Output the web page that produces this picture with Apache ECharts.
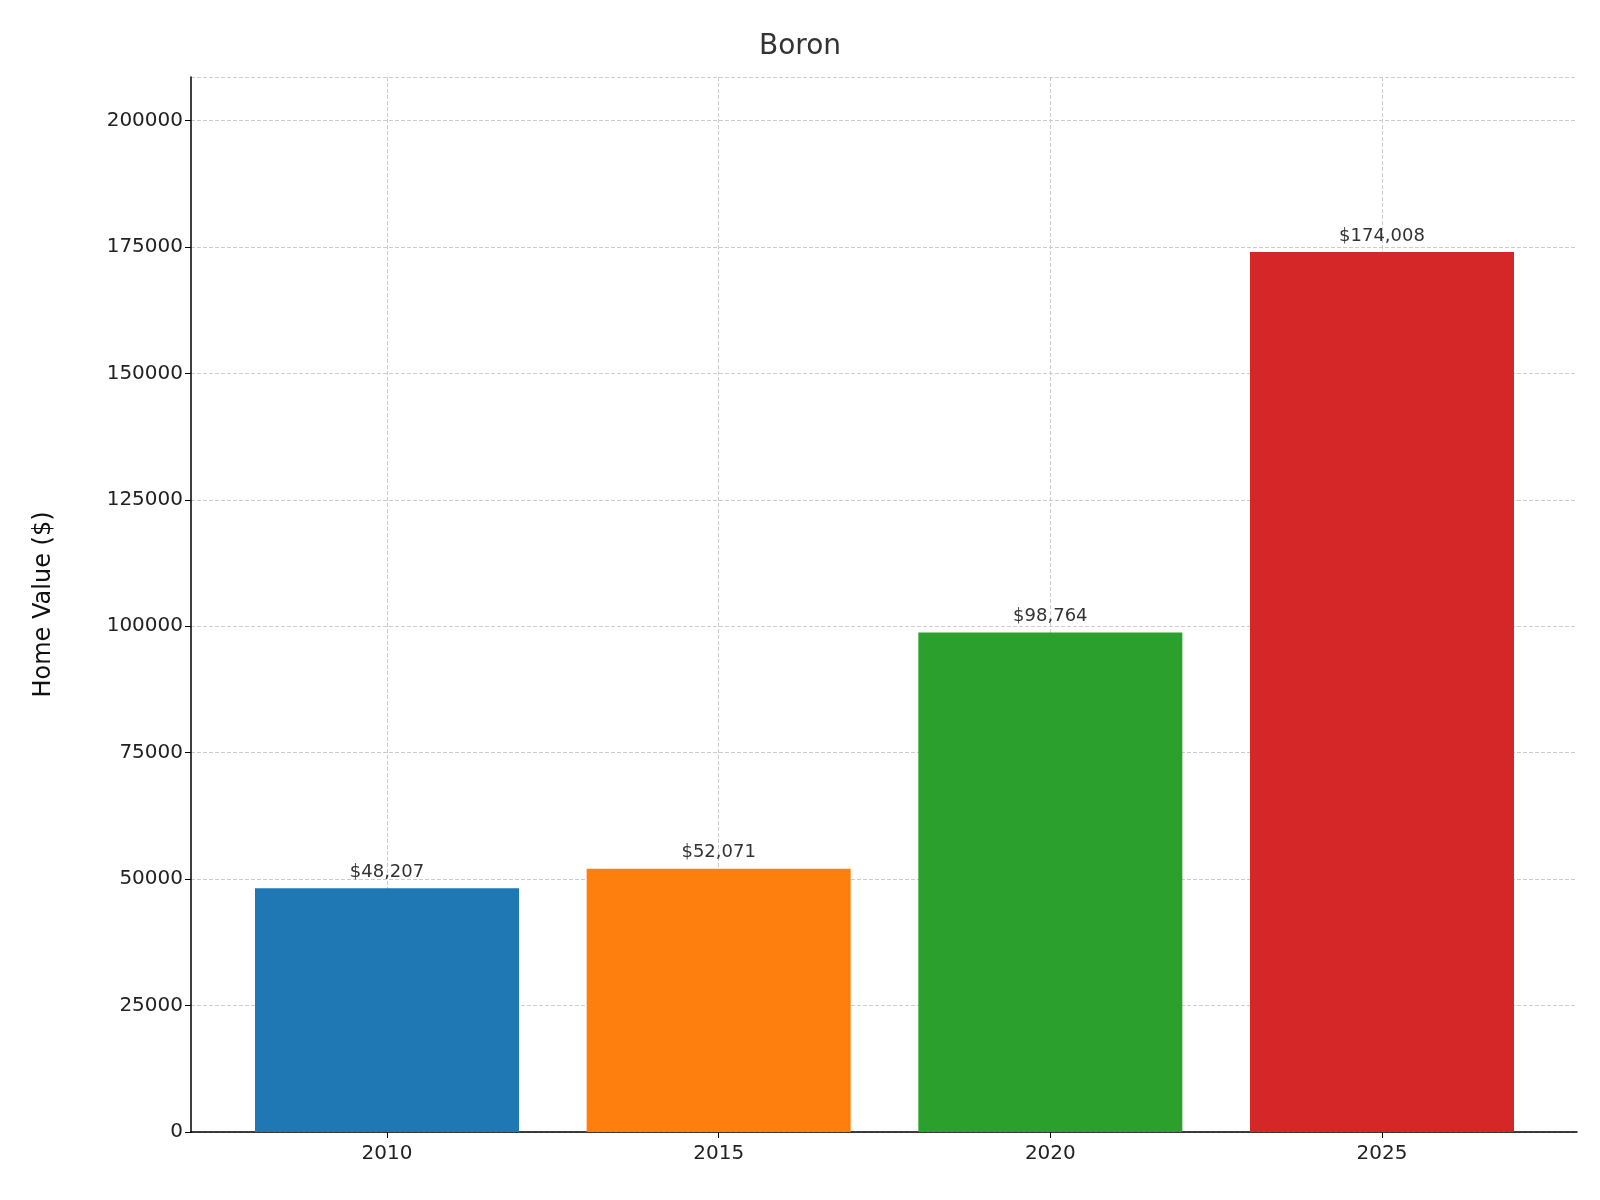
<!DOCTYPE html>
<html>
<head>
<meta charset="utf-8">
<script src="https://cdn.jsdelivr.net/npm/echarts@6/dist/echarts.min.js"></script>
<style>body{margin:0;background:#fff}#main{width:1600px;height:1200px}</style>
</head>
<body>
<div id="main"></div>
<script>
var years = ['2010', '2015', '2020', '2025'];
var values = [48207, 52071, 98764, 174008];
var colors = ['#1f77b4', '#ff7f0e', '#2ca02c', '#d62728'];

var myChart = echarts.init(document.getElementById('main'));
var font = 'DejaVu Sans';
var yMax = 208600;

option = {
    textStyle: { fontFamily: font },
    title: {
        text: 'Boron', left: 'center', top: 28,
        textStyle: { fontFamily: font, fontSize: 28, fontWeight: 'normal', color: '#333' }
    },
    grid: [
        { left: 191, right: 23, top: 77, bottom: 68 },
        { left: 387, right: 218, top: 77, bottom: 68 }
    ],
    xAxis: [
        {
            gridIndex: 0, type: 'value', min: 0, max: 1,
            axisLine: { lineStyle: { color: '#000', width: 1.5 } },
            axisTick: { show: false }, axisLabel: { show: false }, splitLine: { show: false }
        },
        {
            gridIndex: 1, type: 'category', data: years, boundaryGap: false,
            axisLine: { show: false },
            axisTick: { show: true, length: 6, lineStyle: { color: '#000' } },
            axisLabel: { fontSize: 20, color: '#222', margin: 12 },
            splitLine: { show: true, interval: 0, lineStyle: { type: 'dashed', color: '#ccc' } }
        }
    ],
    yAxis: [
        {
            gridIndex: 0, type: 'value', min: 0, max: yMax, interval: 25000,
            name: 'Home Value ($)', nameLocation: 'middle', nameGap: 135,
            nameTextStyle: { fontSize: 24, color: '#111' },
            axisLine: { show: true, lineStyle: { color: '#000', width: 1.5 } },
            axisTick: { show: true, length: 6, lineStyle: { color: '#000' } },
            axisLabel: { fontSize: 20, color: '#222', showMaxLabel: false, formatter: function (v) { return String(v); } },
            splitLine: { lineStyle: { type: 'dashed', color: '#ccc' } }
        },
        {
            gridIndex: 1, type: 'value', min: 0, max: yMax, show: false, splitLine: { show: false }
        }
    ],
    series: [{
        type: 'bar', xAxisIndex: 1, yAxisIndex: 1, barWidth: 264,
        data: values.map(function (v, i) { return { value: v, itemStyle: { color: colors[i] } }; }),
        label: {
            show: true, position: 'top', fontSize: 18, color: '#333', distance: 7,
            formatter: function (p) { return '$' + p.value.toLocaleString('en-US'); }
        },
        z: 1
    }]
};

myChart.setOption(option);
</script>
</body>
</html>
